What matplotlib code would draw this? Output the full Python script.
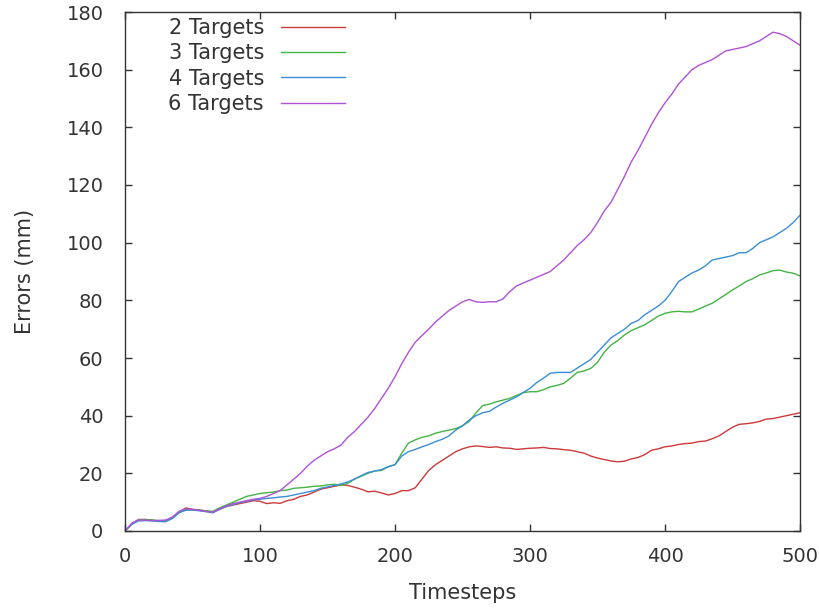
import numpy as np
import matplotlib
matplotlib.use("Agg")
import matplotlib.pyplot as plt

# timesteps sampled every 5 steps
timesteps = np.arange(0, 505, 5)

err_2 = [0, 2.5, 4, 4, 3.8, 3.5, 3.5, 4.5, 6.5, 8, 7.5, 7.3, 7, 6.5, 7.5, 8.5, 9, 9.5, 10, 10.5,
         10.3, 9.5, 9.8, 9.6, 10.5, 11, 12, 12.5, 13.5, 14.5, 15, 15.5, 16, 15.8, 15.2, 14.5, 13.6, 13.8, 13.2, 12.5,
         13, 14, 14, 15, 18, 21, 23, 24.5, 26, 27.5, 28.5, 29.2, 29.5, 29.3, 29, 29.2, 28.8, 28.7, 28.3, 28.5,
         28.7, 28.8, 29, 28.6, 28.5, 28.2, 28, 27.5, 27, 26, 25.3, 24.8, 24.3, 24, 24.2, 25, 25.5, 26.5, 28, 28.5,
         29.2, 29.5, 30, 30.3, 30.5, 31, 31.2, 32, 33, 34.5, 36, 37, 37.2, 37.5, 38, 38.8, 39, 39.5, 40, 40.5,
         41]

err_3 = [0, 2.5, 3.8, 4, 3.8, 3.5, 3.5, 4.5, 6.5, 7.5, 7.3, 7.2, 7, 6.8, 8, 9, 10, 11, 12, 12.5,
         13, 13.3, 13.5, 14, 14.2, 14.8, 15, 15.2, 15.5, 15.6, 16, 16.2, 15.8, 16.5, 18, 19, 20, 20.8, 21, 22.3,
         23, 27, 30.5, 31.6, 32.5, 33, 33.9, 34.5, 35, 35.5, 36.5, 38, 41, 43.5, 44, 44.8, 45.4, 46, 47, 48,
         48.3, 48.3, 49, 50, 50.5, 51.2, 53, 55, 55.5, 56.4, 58.5, 62, 64.5, 66, 68, 69.5, 70.5, 71.5, 73, 74.5,
         75.5, 76, 76.2, 76, 76, 77, 78, 79, 80.5, 82, 83.6, 85, 86.5, 87.5, 88.8, 89.5, 90.3, 90.5, 89.8, 89.4,
         88.5]

err_4 = [0, 2.3, 3.5, 3.6, 3.5, 3.3, 3.2, 4.3, 6.3, 7.2, 7.3, 7, 6.7, 6.3, 7.5, 8.5, 9.2, 9.8, 10.3, 10.8,
         11, 11.3, 11.5, 11.8, 12, 12.5, 13, 13.5, 14, 14.8, 15.3, 15.8, 16.3, 17, 18, 19.2, 20.3, 20.8, 21.3, 22.3,
         23, 26, 27.5, 28.3, 29.2, 30, 31, 31.8, 33, 35, 36.5, 38.5, 40, 41, 41.5, 43, 44.3, 45.4, 46.5, 48,
         49.5, 51.5, 53, 54.7, 55, 55, 55, 56.5, 58, 59.5, 62, 64.5, 67, 68.5, 70, 72, 73, 75, 76.5, 78,
         80, 83, 86.5, 88, 89.5, 90.5, 92, 94, 94.5, 95, 95.5, 96.5, 96.5, 98, 100, 101, 102, 103.5, 105, 107,
         109.5]

err_6 = [0, 2.7, 3.8, 3.8, 3.6, 3.7, 3.8, 4.8, 6.8, 7.7, 7.5, 7.2, 6.8, 6.5, 7.7, 8.7, 9.5, 10, 10.5, 11,
         11.3, 12, 13, 14, 16, 18, 20, 22.5, 24.5, 26, 27.5, 28.5, 29.8, 32.5, 34.5, 37, 39.5, 42.5, 46, 49.5,
         53.5, 58, 62, 65.5, 67.8, 70, 72.5, 74.5, 76.5, 78, 79.5, 80.3, 79.5, 79.3, 79.5, 79.5, 80.5, 83, 85, 86,
         87, 88, 89, 90, 92, 94, 96.5, 99, 101, 103.5, 107, 111, 114, 118.5, 123, 128, 132, 136.5, 141, 145,
         148.5, 151.5, 155, 157.5, 160, 161.5, 162.5, 163.5, 165, 166.5, 167, 167.5, 168, 169, 170, 171.5, 173, 172.5, 171.5, 170,
         168.5]

labels = ["2 Targets", "3 Targets", "4 Targets", "6 Targets"]
colors = ["#cc3a3a", "#44b444", "#3a8ed6", "#b052d6"]

plt.rcParams['font.family'] = ['DejaVu Sans']
text_color = "#333333"

fig = plt.figure(figsize=(8.2, 6.09), dpi=100)
ax = fig.add_axes([125 / 820, 78 / 609, 675 / 820, 519 / 609])

for vals, lab, col in zip([err_2, err_3, err_4, err_6], labels, colors):
    ax.plot(timesteps, vals, color=col, linewidth=1.0, label=lab)

ax.set_xlim(0, 500)
ax.set_ylim(0, 180)
ax.set_xticks(np.arange(0, 501, 100))
ax.set_yticks(np.arange(0, 181, 20))
ax.tick_params(direction='in', length=5, width=1, top=True, right=True,
               colors=text_color, labelcolor=text_color, labelsize=14)
ax.tick_params(axis='x', pad=11.5)
ax.tick_params(axis='y', pad=15.5)
for sp in ax.spines.values():
    sp.set_color(text_color)
    sp.set_linewidth(1)

ax.set_xlabel("Timesteps", color=text_color, fontsize=15, labelpad=12)
ax.set_ylabel("Errors (mm)", color=text_color, fontsize=15, labelpad=23)

leg = ax.legend(loc='upper left', bbox_to_anchor=(0.049, 1.008), frameon=False,
                markerfirst=False, handlelength=3.1, handletextpad=0.8,
                labelspacing=0.25, borderpad=0.0, fontsize=15)
for t in leg.get_texts():
    t.set_color(text_color)

fig.savefig("out.png", dpi=100)
